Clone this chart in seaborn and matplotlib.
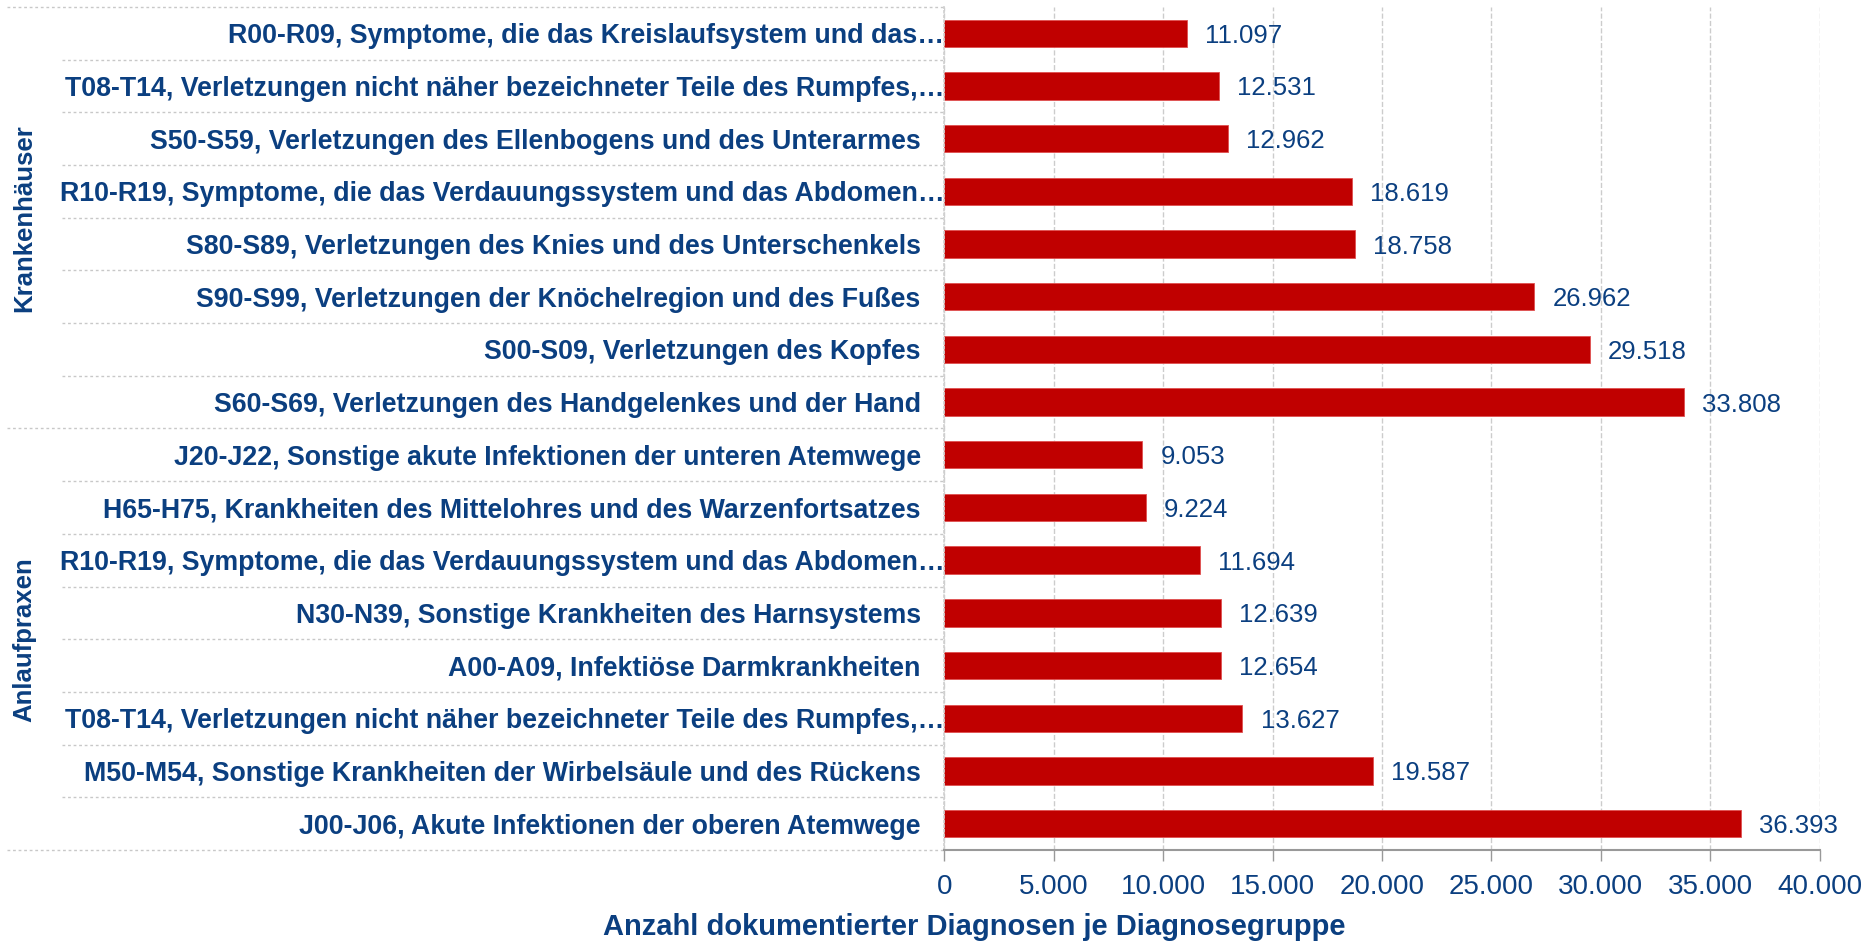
import matplotlib
matplotlib.use("Agg")
import matplotlib.pyplot as plt
import seaborn as sns
import pandas as pd

# Daten: oben nach unten
groups = ["Krankenhäuser"] * 8 + ["Anlaufpraxen"] * 8
labels = [
    "R00-R09, Symptome, die das Kreislaufsystem und das…",
    "T08-T14, Verletzungen nicht näher bezeichneter Teile des Rumpfes,…",
    "S50-S59, Verletzungen des Ellenbogens und des Unterarmes",
    "R10-R19, Symptome, die das Verdauungssystem und das Abdomen…",
    "S80-S89, Verletzungen des Knies und des Unterschenkels",
    "S90-S99, Verletzungen der Knöchelregion und des Fußes",
    "S00-S09, Verletzungen des Kopfes",
    "S60-S69, Verletzungen des Handgelenkes und der Hand",
    "J20-J22, Sonstige akute Infektionen der unteren Atemwege",
    "H65-H75, Krankheiten des Mittelohres und des Warzenfortsatzes",
    "R10-R19, Symptome, die das Verdauungssystem und das Abdomen…",
    "N30-N39, Sonstige Krankheiten des Harnsystems",
    "A00-A09, Infektiöse Darmkrankheiten",
    "T08-T14, Verletzungen nicht näher bezeichneter Teile des Rumpfes,…",
    "M50-M54, Sonstige Krankheiten der Wirbelsäule und des Rückens",
    "J00-J06, Akute Infektionen der oberen Atemwege",
]
values = [11097, 12531, 12962, 18619, 18758, 26962, 29518, 33808,
          9053, 9224, 11694, 12639, 12654, 13627, 19587, 36393]
group_names = ["Krankenhäuser", "Anlaufpraxen"]
xticks = [0, 5000, 10000, 15000, 20000, 25000, 30000, 35000, 40000]

BLUE = "#0b3f80"
RED = "#c00000"

df = pd.DataFrame({"group": groups, "label": labels, "value": values})
df["key"] = [f"{g}|{i}" for i, g in enumerate(df["group"])]

sns.set_theme(style="white")
plt.rcParams["font.family"] = ["Liberation Sans", "DejaVu Sans"]

fig = plt.figure(figsize=(18.7, 9.41), dpi=100)
ax = fig.add_axes([0.505, 0.0967, 0.468, 0.896])

sns.barplot(data=df, y="key", x="value", order=list(df["key"]), orient="h",
            color=RED, saturation=1, width=0.52, edgecolor="#e05050",
            linewidth=0.6, ax=ax)

ax.set_xlim(0, 40000)
ax.set_ylim(len(df) - 0.5, -0.5)
ax.set_xticks(xticks)
ax.set_xticklabels([f"{t:,}".replace(",", ".") for t in xticks],
                   fontsize=20, color=BLUE)
ax.set_yticks(range(len(df)))
ax.set_yticklabels(df["label"], fontsize=19.3, fontweight="bold", color=BLUE)
for i, tick in enumerate(ax.yaxis.get_major_ticks()):
    tick.set_pad(0 if df["label"][i].endswith("…") else 17)
ax.tick_params(axis="y", length=0)
ax.tick_params(axis="x", bottom=True, length=8, width=1, color="#999999",
               direction="out", pad=9)
ax.set_xlabel("")
ax.set_ylabel("")

# Gitter und Rahmen
ax.grid(axis="x", linestyle="--", color="#cccccc", linewidth=1)
ax.set_axisbelow(True)
for s in ["top", "right"]:
    ax.spines[s].set_visible(False)
ax.spines["bottom"].set_color("#999999")
ax.spines["bottom"].set_linewidth(1.5)
ax.spines["left"].set_color("#d0d0d0")
ax.spines["left"].set_linestyle(":")

# Werte
for i, v in enumerate(df["value"]):
    ax.annotate(f"{v:,}".replace(",", "."), (v, i), xytext=(13, 0),
                textcoords="offset points", va="center_baseline", ha="left",
                fontsize=18.5, color=BLUE)

# Trennlinien im Beschriftungsbereich
trans = ax.get_yaxis_transform()
n = len(df)
for b in range(n + 1):
    y = b - 0.5
    x0 = -1.071 if b in (0, 8, n) else -1.008
    ax.plot([x0, 0], [y, y], transform=trans, clip_on=False,
            color="#c8c8c8", linestyle=(0, (2, 2)), linewidth=1)

# Gruppenbeschriftungen
for gi, g in enumerate(group_names):
    yc = gi * 8 + 3.5
    ax.text(-1.051, yc, g, transform=trans, rotation=90, ha="center",
            va="center", fontsize=18.5, fontweight="bold", color=BLUE)

fig.text(0.521, 0.015, "Anzahl dokumentierter Diagnosen je Diagnosegruppe",
         ha="center", va="center", fontsize=21, fontweight="bold", color=BLUE)

fig.savefig("out.png", dpi=100)
